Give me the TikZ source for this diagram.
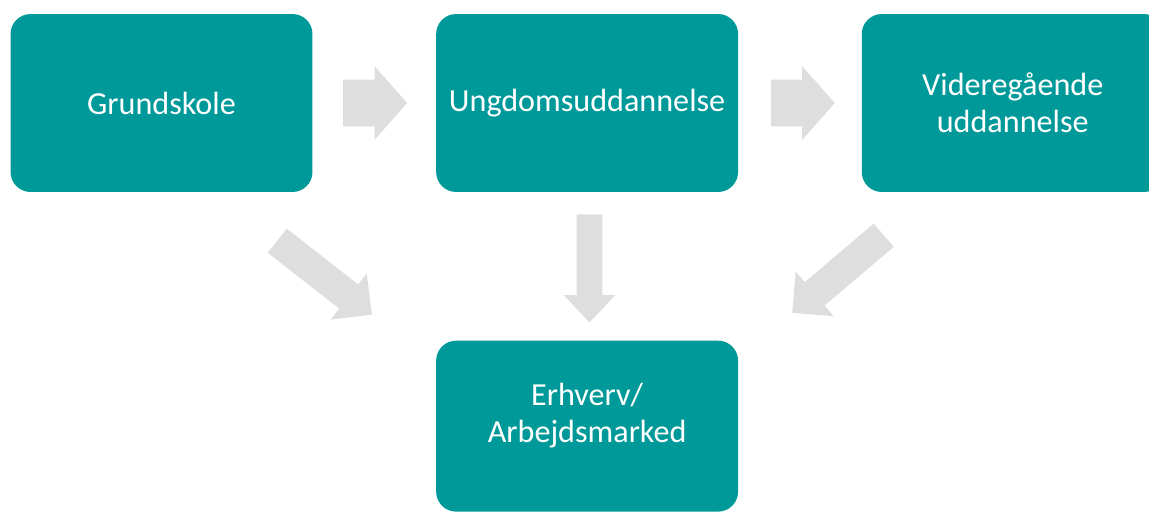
\documentclass[tikz,border=0pt]{standalone}
\usepackage{fontspec}
\setmainfont{Carlito}
\usepackage{tikz}
\usetikzlibrary{shapes.arrows, positioning, calc}
\definecolor{tealbox}{HTML}{009999}
\definecolor{arrowgray}{HTML}{DEDEDE}
\tikzstyle{stage} = [rectangle, rounded corners=0.4cm, minimum width=6.04cm, minimum height=3.56cm, text centered, align=center, fill=tealbox, text=white, font=\fontsize{18.3}{21}\selectfont]
\tikzstyle{flat} = [single arrow, anchor=tail, fill=arrowgray, inner xsep=0pt, minimum width=0pt, minimum height=1.28cm, inner ysep=0.46cm, single arrow head extend=0.27cm, single arrow tip angle=97]
\tikzstyle{fall} = [single arrow, anchor=tail, fill=arrowgray, inner xsep=0pt, minimum width=0pt, minimum height=2.16cm, inner ysep=0.25cm, single arrow head extend=0.26cm, single arrow tip angle=87]
\tikzstyle{slant} = [single arrow, anchor=tail, fill=arrowgray, inner xsep=0pt, minimum width=0pt, minimum height=2.4cm, inner ysep=0.3cm, single arrow head extend=0.28cm, single arrow tip angle=90]

\begin{document}
\begin{tikzpicture}[x=0.02cm, y=-0.02cm]
\useasboundingbox (0,0) rectangle (1149,511);
\clip (0,0) rectangle (1149,511);
\node (grund) [stage] at (161.5,103) {Grundskole};
\node (ungdom) [stage, right=2.46cm of grund] {Ungdomsuddannelse};
\node (videre) [stage, right=2.46cm of ungdom] {Videregående\\uddannelse};
\node (erhverv) [stage, below=2.96cm of ungdom, minimum height=3.42cm, text depth=0.55cm] {Erhverv/\\Arbejdsmarked};

\node (pil1) [flat] at ($(grund.east)+(0.6cm,0)$) {};
\node (pil2) [flat] at ($(ungdom.east)+(0.64cm,0)$) {};
\node (pil3) [fall, rotate=-90] at (589.5,214) {};
\node (pil4) [slant, rotate=-38] at (277,240.5) {};
\node (pil5) [slant, rotate=220.3] at (884,235) {};
\end{tikzpicture}
\end{document}
